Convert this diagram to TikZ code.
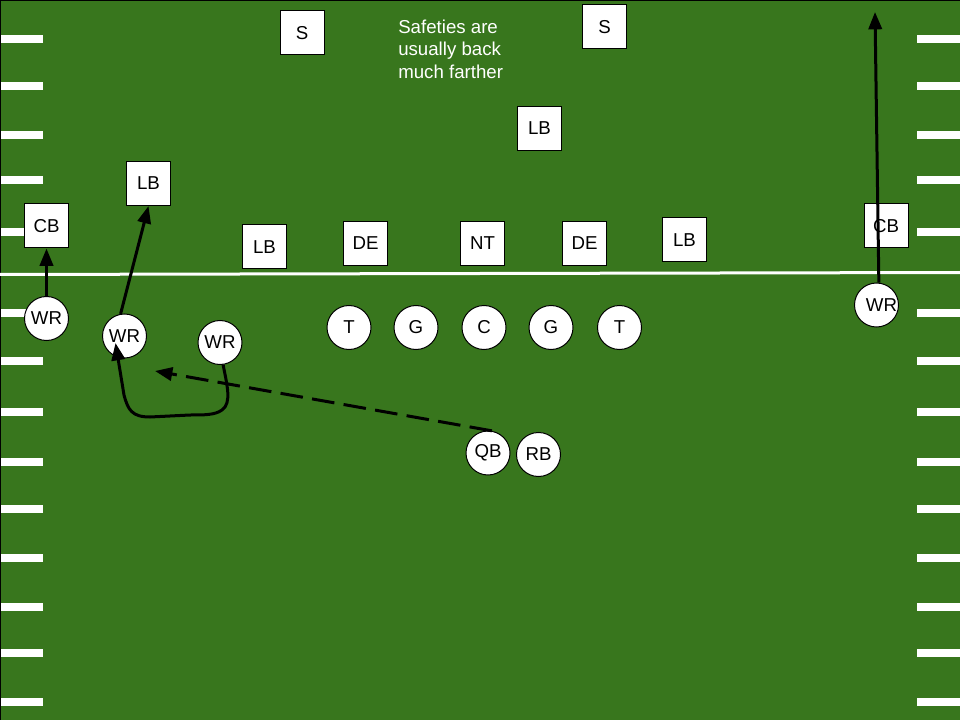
\documentclass[tikz,border=0pt]{standalone}
\usepackage{fontspec}
\setmainfont{Liberation Sans}
\usetikzlibrary{arrows.meta}
\definecolor{field}{HTML}{38761D}
\begin{document}
\begin{tikzpicture}[x=0.75pt,y=-0.75pt,
  player/.style={draw=black,line width=0.75pt,fill=white,inner sep=0pt,minimum size=33pt,font=\fontsize{14}{16}\selectfont},
  defbox/.style={player,rectangle},
  offcirc/.style={player,circle},
  route/.style={black,line width=2.25pt,-{Triangle[length=13pt,width=10pt]}},
  passroute/.style={route,dash pattern=on 17pt off 7pt},
  tick/.style={fill=white}]
\useasboundingbox (0,0) rectangle (960,720);
\fill[field] (0,0) rectangle (960,720);
\draw[black,line width=0.9pt] (0.5,720) -- (0.5,0.5) -- (960,0.5);
\foreach \yy in {39,86,135,180,232,313,361,412,462,509,558,607,653,702}{
  \fill[tick] (1,\yy-4) rectangle (43,\yy+4);
  \fill[tick] (917,\yy-4) rectangle (960,\yy+4);
}
\draw[white,line width=2.25pt] (0,274.5) -- (960,272.5);
% defense
\node[defbox] (s1) at (302,33) {S};
\node[defbox] (s2) at (604.5,27) {S};
\node[defbox] (lbtop) at (539.5,128.5) {LB};
\node[defbox] (lbl) at (148.5,183.5) {LB};
\node[defbox] (cbl) at (46.5,226) {CB};
\node[defbox] (lbm) at (264.5,247) {LB};
\node[defbox] (del) at (365.5,243.5) {DE};
\node[defbox] (nt) at (482.5,243.5) {NT};
\node[defbox] (der) at (584.5,243.5) {DE};
\node[defbox] (lbr) at (684.5,240) {LB};
\node[defbox] (cbr) at (886,226) {CB};
% offense
\node[offcirc] (wr1) at (46.5,318.5) {WR};
\node[offcirc] (wr2) at (124.5,336) {WR};
\node[offcirc] (wr3) at (220,342.5) {WR};
\node[offcirc] (tl) at (349,327.5) {T};
\node[offcirc] (gl) at (416,327.5) {G};
\node[offcirc] (c) at (484,327.5) {C};
\node[offcirc] (gr) at (551,327.5) {G};
\node[offcirc] (tr) at (619.5,327.5) {T};
\node[offcirc] (qb) at (488,453) {QB};
\node[offcirc] (rb) at (538.5,454.5) {RB};
\node[offcirc] (wrr) at (876.5,305) {\hspace*{7.5pt}WR};
% note
\node[anchor=north west,inner sep=0pt,align=left,text=white,font=\fontsize{14}{17}\selectfont] (note) at (398,19.5) {Safeties are\\usually back\\much farther};
% routes
\coordinate (passtgt) at (155,371);
\coordinate (deep) at (875,12);
\coordinate (curltip) at (115.5,343);
\draw[route] (wr1) -- (cbl);
\draw[route] (wr2.100) -- (lbl.south);
\draw[route] (wr3.-82) .. controls (227,385) and (232,403) .. (222,410) .. controls (215,415) and (205,415) .. (190,415) -- (150,417) .. controls (132,417) and (128,410) .. (124,395) -- (curltip);
\draw[passroute] (qb.80) -- (passtgt);
\draw[route] (wrr.84) -- (deep);
\end{tikzpicture}
\end{document}
